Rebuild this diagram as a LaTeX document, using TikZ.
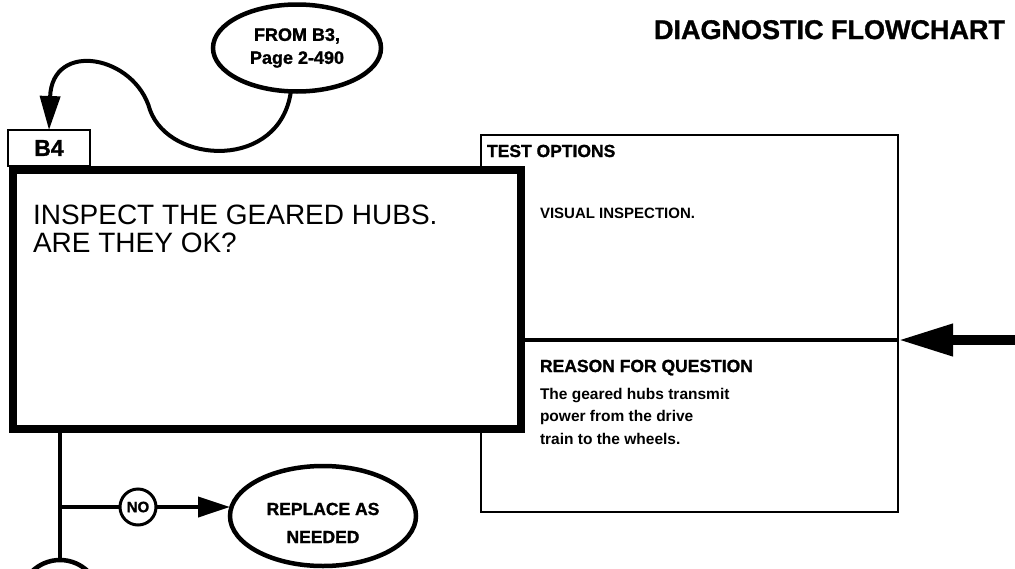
\documentclass[tikz,border=0pt]{standalone}
\usepackage{fontspec}
\setmainfont{Liberation Sans}
\newfontfamily\heavy{Liberation Sans}[FakeBold=1.2]
\usetikzlibrary{arrows.meta,shapes.geometric}
\begin{document}
\begin{tikzpicture}[x=1pt,y=-1pt,
  every node/.style={inner sep=0pt, outer sep=0pt},
  oval/.style={draw, ellipse, line width=4.5pt, fill=white, align=center},
  conn/.style={line width=4pt},
  arr/.style={-{Triangle[length=32pt,width=20pt]}, line width=4pt},
  bx/.style={draw, line width=2.5pt, rectangle},
  txt/.style={anchor=base west},
  ]
\clip (0,0) rectangle (1015,568);
\fill[white] (0,0) rectangle (1015,568);

% title
\node[anchor=base east, font=\heavy\bfseries\fontsize{27}{27}\selectfont] (title) at (1005,39) {DIAGNOSTIC FLOWCHART};

% right panel
\node[bx, minimum width=417pt, minimum height=377pt, anchor=north west] (panel) at (481,135) {};

% main question box
\node[draw, line width=8pt, fill=white, minimum width=508pt, minimum height=259pt, anchor=north west] (q) at (13,170) {};
\node[txt, font=\fontsize{28}{28}\selectfont] (q1) at (33,224) {INSPECT THE GEARED HUBS.};
\node[txt, font=\fontsize{28}{28}\selectfont] (q2) at (33,252) {ARE THEY OK?};

% B4 label
\node[bx, fill=white, minimum width=82pt, minimum height=36pt, anchor=south west, font=\heavy\bfseries\fontsize{23}{23}\selectfont] (b4) at (8,166) {B4};

% divider and incoming arrow
\coordinate (div) at (898,340);
\draw[line width=4pt] (q.east |- div) -- (panel.east |- div);
\coordinate (rin) at (1015,340);
\draw[line width=10pt, -{Triangle[length=55pt,width=30pt]}] (rin) -- (panel.east |- rin);

% panel texts
\node[txt, font=\heavy\bfseries\fontsize{17.5}{17.5}\selectfont] (to) at (487,157) {TEST OPTIONS};
\node[txt, font=\bfseries\fontsize{15}{15}\selectfont] (vi) at (540,218) {VISUAL INSPECTION.};
\node[txt, font=\heavy\bfseries\fontsize{17.5}{17.5}\selectfont] (rq) at (540,372) {REASON FOR QUESTION};
\node[txt, font=\bfseries\fontsize{15.5}{15.5}\selectfont] (r1) at (540,399) {The geared hubs transmit};
\node[txt, font=\bfseries\fontsize{15.5}{15.5}\selectfont] (r2) at (540,421) {power from the drive};
\node[txt, font=\bfseries\fontsize{15.5}{15.5}\selectfont] (r3) at (540,444) {train to the wheels.};

% entry from B3
\node[oval, minimum width=168pt, minimum height=87pt, font=\heavy\bfseries\fontsize{18}{23}\selectfont] (from) at (297,48) {FROM B3,\\Page 2-490};
\draw[line width=4pt, -{Triangle[length=34pt,width=20pt]}] (from.262) .. controls (280,170) and (170,165) .. (150,110) .. controls (135,55) and (52,40) .. (b4.north);

% lower branch
\node[oval, circle, line width=3pt, minimum size=36pt, font=\heavy\bfseries\fontsize{15}{15}\selectfont] (no) at (138,507) {NO};
\node[oval, minimum width=186pt, minimum height=100pt] (rep) at (323,516) {};
\node[font=\heavy\bfseries\fontsize{17.5}{17.5}\selectfont, anchor=base] (rep1) at (323,515) {REPLACE AS};
\node[font=\heavy\bfseries\fontsize{17.5}{17.5}\selectfont, anchor=base] (rep2) at (323,543) {NEEDED};
\node[oval, minimum width=80pt, minimum height=80pt] (yes) at (60,600) {};
\draw[conn] (yes.north |- q.south) -- (yes.north);
\draw[conn] (yes.north |- no.west) -- (no.west);
\draw[arr] (no.east) -- (no.east -| rep.west);
\end{tikzpicture}
\end{document}
